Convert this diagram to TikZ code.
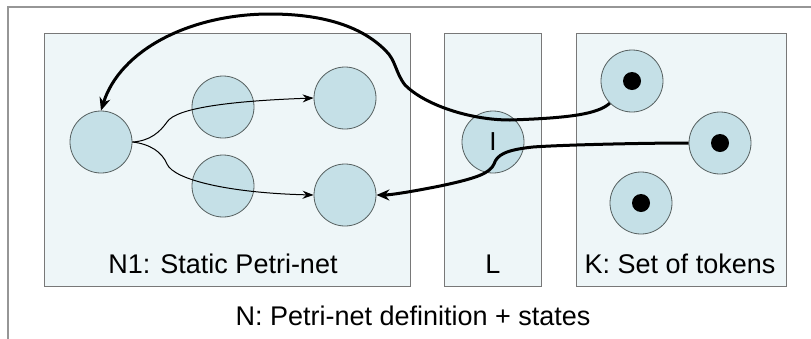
\documentclass[tikz,border=0pt]{standalone}
\usepackage{fontspec}
\setmainfont{Liberation Sans}
\usetikzlibrary{arrows.meta}
\definecolor{circfill}{RGB}{197,224,231}
\definecolor{boxfill}{RGB}{238,246,248}
\definecolor{boxline}{RGB}{120,120,120}
\definecolor{circline}{RGB}{85,95,95}
\definecolor{frameline}{RGB}{150,150,150}
\tikzset{
  region/.style={draw=boxline, fill=boxfill, line width=1pt},
  place/.style={circle, draw=circline, fill=circfill, line width=0.8pt, minimum size=62pt, inner sep=0pt, font=\fontsize{26}{30}\selectfont},
  tokendot/.style={circle, fill=black, minimum size=18pt, inner sep=0pt},
  lbl/.style={anchor=base, inner sep=0pt, font=\fontsize{27}{32}\selectfont},
  thinarc/.style={line width=1pt, -{Stealth[length=11pt,width=8pt]}},
  thickarc/.style={line width=3pt, -{Stealth[length=13pt,width=11pt]}},
}
\begin{document}
\begin{tikzpicture}[x=1pt,y=-1pt]
\useasboundingbox (0,0) rectangle (811,338);
% outer frame (extends beyond picture)
\draw[frameline, line width=2pt] (8,345) -- (8,7) -- (820,7);
% regions
\draw[region] (44,33) rectangle (410,286);
\draw[region] (444,33) rectangle (541,286);
\draw[region] (576,33) rectangle (786,286);
% places in N1
\node[place] (p1) at (101,142) {};
\node[place] (p2) at (223,107) {};
\node[place] (p3) at (345,98) {};
\node[place] (p4) at (223,186) {};
\node[place] (p5) at (345,195) {};
% L
\node[place] (li) at (493,142) {I};
% tokens
\node[place] (t1) at (632,81) {};
\node[place] (t2) at (720,143) {};
\node[place] (t3) at (641,203) {};
\node[tokendot] (d1) at (t1) {};
\node[tokendot] (d2) at (t2) {};
\node[tokendot] (d3) at (t3) {};
% labels
\node[lbl] (n1lbl) at (223,273) {N1: Static Petri-net};
\node[lbl] (llbl) at (493,273) {L};
\node[lbl] (klbl) at (680,273) {K: Set of tokens};
\node[lbl] (nlbl) at (413,325) {N: Petri-net definition + states};
% thin arcs
\draw[thinarc] (p1.east) .. controls (150,141) and (160,132) .. (167,122)
   .. controls (176,108) and (230,101) .. (p3.west);
\draw[thinarc] (p1.east) .. controls (150,144) and (162,152) .. (167,164)
   .. controls (174,180) and (230,193) .. (p5.west);
% thick arcs
\draw[thickarc] (t1.south west) .. controls (598,114) and (570,118) .. (510,120)
   .. controls (470,120) and (425,105) .. (405,85)
   .. controls (395,72) and (396,60) .. (385,50)
   .. controls (360,25) and (320,14) .. (270,14)
   .. controls (190,14) and (120,50) .. (p1.north);
\draw[thickarc] (t2.west) .. controls (640,143) and (560,145) .. (533,147)
   .. controls (505,150) and (497,155) .. (494,164)
   .. controls (490,173) and (478,178) .. (440,186)
   .. controls (410,192) and (390,195) .. (p5.east);
\end{tikzpicture}
\end{document}
